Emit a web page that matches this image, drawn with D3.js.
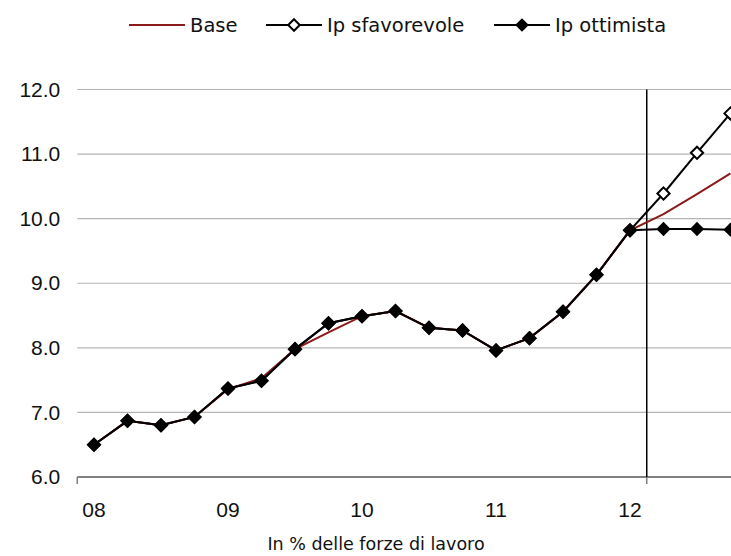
<!DOCTYPE html>
<html>
<head>
<meta charset="utf-8">
<script src="https://cdn.jsdelivr.net/npm/d3@7"></script>
<style>
  body { margin: 0; background: #fff; }
  svg { display: block; font-family: "DejaVu Sans", Verdana, sans-serif; }
</style>
</head>
<body>
<svg id="chart" width="731" height="556"></svg>
<script>
// quarterly categories, 2008 Q1 .. 2012 Q4
const quarters = ["08T1","08T2","08T3","08T4","09T1","09T2","09T3","09T4",
  "10T1","10T2","10T3","10T4","11T1","11T2","11T3","11T4",
  "12T1","12T2","12T3","12T4"];
const quarterLabels = ["08","","","","09","","","","10","","","","11","","","","12","","",""];

const base = [6.50, 6.87, 6.80, 6.93, 7.36, 7.53, 7.98, 8.24, 8.49, 8.57,
  8.31, 8.27, 7.96, 8.15, 8.56, 9.13, 9.82, 10.07, 10.38, 10.70];
const sfavorevole = [6.50, 6.87, 6.80, 6.93, 7.37, 7.49, 7.98, 8.38, 8.49, 8.57,
  8.31, 8.27, 7.96, 8.15, 8.56, 9.13, 9.82, 10.39, 11.02, 11.63];
const ottimista = [6.50, 6.87, 6.80, 6.93, 7.37, 7.49, 7.98, 8.38, 8.49, 8.57,
  8.31, 8.27, 7.96, 8.15, 8.56, 9.13, 9.82, 9.84, 9.84, 9.83];

const yTicks = [6, 7, 8, 9, 10, 11, 12];
const forecastAfter = "12T1";   // vertical marker after this quarter

const legendItems = [
  {name: "Base", color: "#8b1a1a", marker: null},
  {name: "Ip sfavorevole", color: "#000", marker: "open"},
  {name: "Ip ottimista", color: "#000", marker: "filled"}
];

const svg = d3.select("#chart");
const margin = {left: 77.25, top: 89.5, bottom: 477};
const x = d3.scaleBand().domain(quarters).range([margin.left, margin.left + 33.5 * quarters.length]);
const y = d3.scaleLinear().domain([6, 12]).range([margin.bottom, margin.top]);
const cx = d => x(d) + x.bandwidth() / 2;
const plotRight = 731;

// gridlines
svg.append("g").selectAll("line").data(yTicks.filter(t => t > 6)).join("line")
  .attr("x1", margin.left).attr("x2", plotRight)
  .attr("y1", d => y(d)).attr("y2", d => y(d))
  .attr("stroke", "#b4b4b4").attr("stroke-width", 1.2);

// y axis labels
const yAxis = svg.append("g").attr("transform", `translate(${margin.left},0)`)
  .call(d3.axisLeft(y).tickValues(yTicks).tickFormat(d3.format(".1f")).tickSize(0).tickPadding(17));
yAxis.select(".domain").remove();
yAxis.selectAll("text").attr("font-size", 21).attr("fill", "#111").attr("font-family", null);

// x axis
const xAxis = svg.append("g").attr("transform", `translate(0,${margin.bottom})`)
  .call(d3.axisBottom(x).tickFormat((d, i) => quarterLabels[i]).tickSize(0).tickPadding(25));
xAxis.select(".domain").remove();
xAxis.selectAll("text").attr("font-size", 21).attr("fill", "#111").attr("font-family", null);

svg.append("line").attr("x1", margin.left).attr("x2", plotRight)
  .attr("y1", margin.bottom).attr("y2", margin.bottom)
  .attr("stroke", "#808080").attr("stroke-width", 2);
const fx = x(forecastAfter) + x.bandwidth();
[margin.left, fx].forEach(t => {
  svg.append("line").attr("x1", t).attr("x2", t)
    .attr("y1", margin.bottom).attr("y2", margin.bottom + 7)
    .attr("stroke", "#808080").attr("stroke-width", 1.5);
});

// forecast marker line
svg.append("line").attr("x1", fx).attr("x2", fx)
  .attr("y1", margin.top).attr("y2", margin.bottom)
  .attr("stroke", "#000").attr("stroke-width", 1.5);

// axis title
svg.append("text").attr("x", 376).attr("y", 550).attr("text-anchor", "middle")
  .attr("font-size", 17.5).attr("fill", "#111").text("In % delle forze di lavoro");

// series
const line = d3.line().x((d, i) => cx(quarters[i])).y(d => y(d));
const diamond = d3.symbol().type(d3.symbolDiamond2);

svg.append("path").datum(sfavorevole).attr("d", line)
  .attr("fill", "none").attr("stroke", "#000").attr("stroke-width", 2);
svg.append("path").datum(base).attr("d", line)
  .attr("fill", "none").attr("stroke", "#8b1a1a").attr("stroke-width", 2);
svg.append("path").datum(ottimista).attr("d", line)
  .attr("fill", "none").attr("stroke", "#000").attr("stroke-width", 2);

svg.append("g").selectAll("path").data(sfavorevole).join("path")
  .attr("transform", (d, i) => `translate(${cx(quarters[i])},${y(d)})`)
  .attr("d", diamond.size(95))
  .attr("fill", "#fff").attr("stroke", "#000").attr("stroke-width", 2);
svg.append("g").selectAll("path").data(ottimista).join("path")
  .attr("transform", (d, i) => `translate(${cx(quarters[i])},${y(d)})`)
  .attr("d", diamond.size(130))
  .attr("fill", "#000");

// legend
const legendX = [129, 266, 494];
const leg = svg.append("g").selectAll("g").data(legendItems).join("g")
  .attr("transform", (d, i) => `translate(${legendX[i]},25)`);
leg.append("line").attr("x1", 0).attr("x2", 56)
  .attr("stroke", d => d.color).attr("stroke-width", 2);
leg.filter(d => d.marker).append("path")
  .attr("transform", "translate(28,0)")
  .attr("d", d => diamond.size(d.marker === "open" ? 85 : 120)())
  .attr("fill", d => d.marker === "open" ? "#fff" : "#000")
  .attr("stroke", d => d.marker === "open" ? "#000" : "none")
  .attr("stroke-width", 2);
leg.append("text").attr("x", 61).attr("y", 0).attr("dy", "0.35em")
  .attr("font-size", 19.5).attr("fill", "#111").text(d => d.name);
</script>
</body>
</html>
